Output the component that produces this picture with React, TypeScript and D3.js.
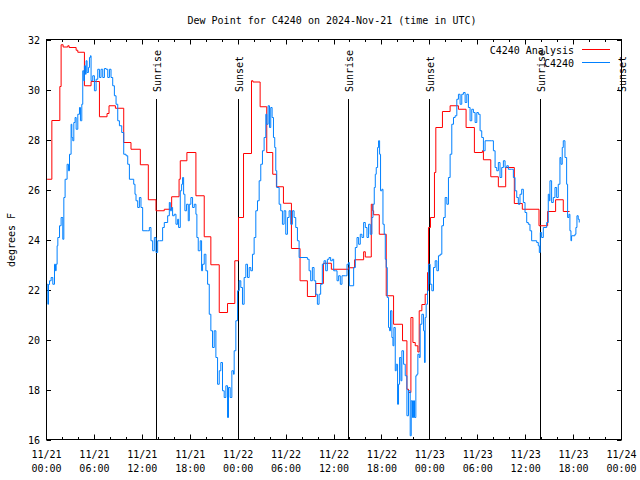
import React from "react";
import * as d3 from "d3";

const title = "Dew Point for C4240 on 2024-Nov-21 (time in UTC)";
const yLabel = "degrees F";
const yTicks = [16, 18, 20, 22, 24, 26, 28, 30, 32];
const xTickDates = ["11/21", "11/21", "11/21", "11/21", "11/22", "11/22", "11/22", "11/22", "11/23", "11/23", "11/23", "11/23", "11/24"];
const xTickTimes = ["00:00", "06:00", "12:00", "18:00", "00:00", "06:00", "12:00", "18:00", "00:00", "06:00", "12:00", "18:00", "00:00"];
const sunHours = [13.75, 24.0, 37.79, 47.95, 61.83, 72.0];
const sunLabels = ["Sunrise", "Sunset", "Sunrise", "Sunset", "Sunrise", "Sunset"];
const seriesNames = ["C4240 Analysis", "C4240"];

// Analysis (hours since 11/21 00:00 UTC, °F)
const redHours = [0.08, 0.67, 1.67, 1.83, 2.08, 2.67, 2.83, 3.71, 3.92, 4.75, 5.58, 6.63, 7.58, 7.83, 8.63, 9.67, 10.58, 11.75, 12.75, 13.71, 14.75, 15.67, 16.6, 16.75, 17.58, 18.71, 19.75, 20.58, 21.63, 22.67, 23.58, 24.04, 24.67, 25.67, 25.85, 26.75, 27.58, 28.33, 28.79, 29.67, 30.67, 31.75, 32.67, 33.71, 34.67, 35.67, 37.83, 38.58, 39.71, 39.92, 40.67, 40.85, 40.96, 41.67, 42.54, 43.46, 44.58, 45.13, 45.33, 45.63, 45.88, 46.17, 46.5, 46.67, 47.0, 47.42, 47.71, 47.83, 48.08, 48.58, 48.75, 49.58, 50.54, 51.58, 52.54, 53.58, 54.58, 54.71, 55.63, 56.58, 57.5, 58.58, 59.58, 61.67, 62.75, 63.75, 64.71, 65.5];
const redValues = [26.41, 28.76, 30.12, 31.79, 31.7, 31.75, 31.68, 31.57, 31.49, 30.15, 30.32, 28.91, 29.04, 29.35, 29.25, 27.88, 27.61, 26.99, 25.59, 25.15, 25.21, 25.71, 26.41, 27.15, 27.48, 25.75, 24.11, 22.99, 21.08, 21.44, 23.15, 24.88, 27.44, 30.35, 30.3, 29.31, 27.48, 26.61, 26.11, 25.45, 23.64, 22.35, 21.72, 22.24, 23.05, 22.81, 22.87, 23.19, 23.51, 23.3, 25.41, 25.15, 24.99, 24.21, 21.75, 20.61, 19.95, 18.01, 17.88, 20.88, 19.88, 19.75, 19.5, 21.15, 21.4, 21.81, 22.68, 24.48, 24.88, 26.68, 28.48, 29.12, 29.35, 29.21, 28.48, 27.48, 27.55, 27.19, 26.51, 26.11, 26.88, 25.44, 25.21, 24.55, 25.12, 25.59, 25.12, 25.12];

// Observations
const blueHours = [0.08, 0.17, 0.25, 0.38, 0.58, 0.79, 1.0, 1.13, 1.21, 1.33, 1.42, 1.63, 1.83, 2.04, 2.17, 2.33, 2.58, 2.75, 2.88, 3.08, 3.17, 3.29, 3.42, 3.58, 3.71, 3.92, 4.13, 4.25, 4.42, 4.54, 4.67, 4.75, 4.88, 4.96, 5.08, 5.25, 5.38, 5.5, 5.58, 5.79, 6.0, 6.21, 6.42, 6.63, 6.83, 7.04, 7.25, 7.46, 7.67, 7.88, 8.08, 8.29, 8.5, 8.71, 8.92, 9.13, 9.42, 9.67, 9.96, 10.17, 10.38, 10.92, 11.08, 11.21, 11.42, 11.63, 11.83, 12.04, 12.67, 12.88, 13.08, 13.29, 13.5, 13.71, 13.92, 14.13, 14.54, 14.75, 15.17, 15.38, 15.5, 15.67, 15.79, 16.0, 16.21, 16.42, 16.54, 16.75, 16.92, 17.04, 17.17, 17.33, 17.54, 17.75, 17.88, 18.08, 18.29, 18.5, 18.71, 18.83, 19.0, 19.25, 19.42, 19.54, 19.75, 19.96, 20.17, 20.38, 20.58, 20.79, 21.0, 21.21, 21.42, 21.63, 21.83, 22.04, 22.25, 22.46, 22.67, 22.79, 23.0, 23.21, 23.42, 23.5, 23.71, 23.92, 24.13, 24.33, 24.54, 24.75, 24.96, 25.17, 25.38, 25.58, 25.79, 26.0, 26.21, 26.42, 26.63, 26.83, 27.04, 27.25, 27.46, 27.58, 27.75, 27.92, 28.08, 28.25, 28.42, 28.58, 28.71, 28.83, 29.13, 29.33, 29.54, 29.75, 29.96, 30.17, 30.38, 30.58, 30.79, 31.0, 31.21, 31.42, 31.63, 32.67, 32.88, 33.08, 33.29, 33.5, 33.71, 33.92, 34.13, 34.33, 34.54, 34.75, 34.96, 35.17, 35.38, 35.58, 35.79, 35.96, 36.17, 36.38, 36.58, 36.79, 37.0, 37.42, 37.63, 37.83, 37.92, 38.46, 38.67, 38.88, 39.08, 39.29, 39.5, 39.71, 39.92, 40.13, 40.33, 40.54, 40.75, 40.88, 41.04, 41.17, 41.29, 41.46, 41.58, 41.71, 41.83, 42.0, 42.13, 42.29, 42.42, 42.54, 42.67, 42.83, 42.96, 43.08, 43.25, 43.38, 43.5, 43.67, 43.79, 43.96, 44.08, 44.21, 44.38, 44.5, 44.71, 44.92, 45.13, 45.33, 45.54, 45.67, 45.83, 45.96, 46.08, 46.25, 46.38, 46.5, 46.67, 46.79, 47.0, 47.21, 47.33, 47.42, 47.54, 47.71, 47.83, 48.04, 48.25, 48.46, 48.67, 48.88, 49.08, 49.29, 49.5, 49.71, 49.92, 50.13, 50.33, 50.54, 50.75, 50.96, 51.17, 51.38, 51.58, 51.79, 52.0, 52.21, 52.42, 52.63, 52.83, 53.04, 53.25, 53.46, 53.67, 53.88, 54.08, 54.29, 54.5, 54.71, 54.92, 55.75, 55.96, 56.17, 56.38, 56.58, 56.79, 57.0, 57.21, 57.42, 57.63, 57.83, 58.25, 58.46, 58.67, 58.88, 59.08, 59.29, 59.5, 59.71, 59.92, 60.13, 60.33, 60.54, 60.75, 61.38, 61.58, 61.71, 61.83, 62.0, 62.21, 62.42, 62.63, 62.83, 62.96, 63.04, 63.25, 63.46, 63.67, 63.88, 64.08, 64.29, 64.42, 64.58, 64.71, 64.92, 65.13, 65.25, 65.42, 65.54, 65.67, 65.75, 66.17, 66.29, 66.42, 66.58, 66.71];
const blueValues = [22.21, 21.41, 22.2, 22.35, 22.48, 22.21, 23.01, 22.75, 23.01, 23.75, 24.08, 24.55, 24.88, 24.01, 25.68, 26.41, 27.01, 26.75, 27.41, 28.61, 28.08, 27.95, 28.68, 28.88, 28.41, 29.01, 29.28, 28.75, 29.41, 30.75, 30.35, 30.95, 30.61, 31.15, 30.68, 30.88, 31.28, 31.35, 30.35, 30.55, 29.95, 30.41, 30.81, 30.48, 30.81, 30.48, 30.84, 30.81, 30.48, 30.81, 30.48, 30.15, 29.75, 29.41, 28.75, 28.55, 28.28, 27.41, 27.35, 27.01, 26.41, 26.21, 25.81, 25.55, 25.28, 25.68, 25.28, 24.35, 24.35, 24.48, 23.95, 23.55, 24.08, 23.48, 23.95, 23.95, 24.48, 24.68, 24.95, 25.48, 25.15, 25.28, 24.95, 25.01, 24.61, 24.81, 24.48, 25.95, 26.21, 26.48, 25.81, 25.15, 25.41, 24.75, 25.41, 25.68, 25.28, 25.41, 25.01, 24.08, 23.55, 23.95, 22.75, 23.01, 23.41, 22.75, 22.21, 21.01, 20.35, 19.68, 20.35, 19.28, 18.21, 18.75, 19.08, 17.95, 17.68, 18.15, 16.88, 18.08, 17.68, 18.75, 18.61, 19.55, 20.75, 21.95, 22.35, 22.08, 21.41, 22.48, 23.01, 22.48, 22.88, 22.75, 23.41, 24.08, 25.15, 25.55, 26.35, 27.01, 27.55, 28.08, 29.01, 28.61, 29.35, 28.48, 29.28, 28.88, 28.08, 27.68, 26.75, 26.08, 25.41, 25.15, 24.61, 25.15, 24.21, 24.88, 25.15, 24.61, 25.15, 24.88, 24.48, 23.95, 23.28, 23.21, 22.75, 22.35, 22.88, 22.35, 21.81, 21.41, 21.81, 22.21, 23.01, 23.15, 22.75, 23.21, 23.28, 23.15, 23.21, 22.75, 22.75, 22.35, 22.55, 22.21, 22.55, 22.55, 23.01, 23.08, 22.15, 22.88, 23.68, 24.08, 23.81, 24.21, 24.08, 24.68, 24.48, 24.08, 24.61, 24.21, 24.88, 25.41, 26.08, 26.61, 26.88, 27.68, 27.95, 27.41, 25.95, 26.01, 24.61, 24.21, 23.21, 22.88, 21.68, 20.48, 20.35, 21.15, 20.08, 19.75, 20.48, 18.75, 19.01, 17.41, 18.21, 19.28, 18.35, 19.55, 19.01, 18.55, 16.95, 17.95, 16.15, 17.55, 16.88, 17.55, 16.88, 18.55, 18.61, 19.41, 19.28, 20.61, 21.01, 20.35, 19.08, 20.88, 21.41, 21.95, 23.01, 22.21, 21.95, 22.88, 23.15, 22.75, 23.35, 23.41, 24.55, 24.88, 25.68, 25.41, 26.48, 27.41, 28.61, 28.88, 28.95, 29.61, 29.81, 29.41, 29.81, 29.88, 29.48, 29.81, 29.28, 28.75, 29.21, 29.08, 28.68, 29.08, 29.01, 28.35, 28.08, 27.55, 27.95, 27.95, 27.55, 26.88, 26.75, 27.08, 26.48, 26.88, 27.15, 26.88, 26.95, 26.81, 26.81, 26.48, 25.95, 25.68, 25.41, 25.81, 26.01, 25.48, 25.08, 24.68, 24.61, 24.35, 23.95, 23.88, 23.75, 23.48, 24.28, 24.08, 24.48, 24.48, 24.68, 25.81, 25.55, 26.35, 25.48, 25.68, 26.08, 25.68, 26.21, 27.28, 27.01, 27.68, 27.95, 27.28, 26.21, 24.88, 25.01, 24.35, 23.95, 24.15, 24.21, 24.48, 24.95, 24.81, 24.68];

const W = 640;
const H = 480;
const FONT = "'DejaVu Sans Mono', monospace";
const L = 46.5, R = 621.5, T = 39.5, B = 439.5;

export default function App() {
  const x = d3.scaleLinear().domain([0, 72]).range([L, R]);
  const y = d3.scaleLinear().domain([16, 32]).range([B, T]);

  const red = redHours.map((h, i) => [h, redValues[i]] as [number, number]);
  const blue = blueHours.map((h, i) => [h, blueValues[i]] as [number, number]);
  const line = d3
    .line<[number, number]>()
    .x((d) => x(d[0]))
    .y((d) => y(d[1]))
    .curve(d3.curveStepAfter);

  const majorX = d3.range(0, 73, 6);
  const minorX = d3.range(0, 73, 2).filter((h) => h % 6 !== 0);

  return (
    <svg width={W} height={H} style={{ display: "block", position: "absolute", left: 0, top: 0, background: "#fff" }} fontFamily={FONT} fontSize={10}>
      <rect x={0} y={0} width={W} height={H} fill="#fff" />
      <text x={332} y={24} textAnchor="middle" fill="#000">{title}</text>

      {/* y ticks */}
      {yTicks.map((t) => (
        <g key={"y" + t}>
          <line x1={L} x2={L + 4.5} y1={Math.round(y(t)) + 0.5} y2={Math.round(y(t)) + 0.5} stroke="#000" />
          <line x1={R} x2={R - 4.5} y1={Math.round(y(t)) + 0.5} y2={Math.round(y(t)) + 0.5} stroke="#000" />
          <text x={40} y={y(t) + 4} textAnchor="end" fill="#000">{t}</text>
        </g>
      ))}

      {/* x ticks */}
      {majorX.map((h, i) => {
        const px = Math.round(x(h) - 0.5) + 0.5;
        return (
          <g key={"x" + h}>
            <line x1={px} x2={px} y1={B} y2={B - 5} stroke="#000" />
            <line x1={px} x2={px} y1={T} y2={T + 5} stroke="#000" />
            <text x={x(h)} y={458} textAnchor="middle" fill="#000">{xTickDates[i]}</text>
            <text x={x(h)} y={472} textAnchor="middle" fill="#000">{xTickTimes[i]}</text>
          </g>
        );
      })}
      {minorX.map((h) => {
        const px = Math.round(x(h) - 0.5) + 0.5;
        return (
          <g key={"m" + h}>
            <line x1={px} x2={px} y1={B} y2={B - 2.5} stroke="#000" />
            <line x1={px} x2={px} y1={T} y2={T + 2.5} stroke="#000" />
          </g>
        );
      })}

      <text transform={`translate(15,240) rotate(-90)`} textAnchor="middle" fill="#000">{yLabel}</text>

      {/* sunrise / sunset */}
      {sunHours.map((h, i) => {
        const px = Math.round(x(h) - 0.5) + 0.5;
        return (
          <g key={"s" + i}>
            <line x1={px} x2={px} y1={99} y2={B} stroke="#000" />
            <text transform={`translate(${px + 4.5},92) rotate(-90)`} textAnchor="start" fill="#000">{sunLabels[i]}</text>
          </g>
        );
      })}

      <path d={line(red) || ""} fill="none" stroke="#ff0000" strokeWidth={1} />
      <path d={line(blue) || ""} fill="none" stroke="#0080ff" strokeWidth={1} />

      {/* legend */}
      <text x={574} y={53.5} textAnchor="end" fill="#000">{seriesNames[0]}</text>
      <line x1={582} x2={610} y1={49.5} y2={49.5} stroke="#ff0000" />
      <text x={574} y={66.5} textAnchor="end" fill="#000">{seriesNames[1]}</text>
      <line x1={582} x2={610} y1={62.5} y2={62.5} stroke="#0080ff" />

      <rect x={L} y={T} width={R - L} height={B - T} fill="none" stroke="#000" />
    </svg>
  );
}
